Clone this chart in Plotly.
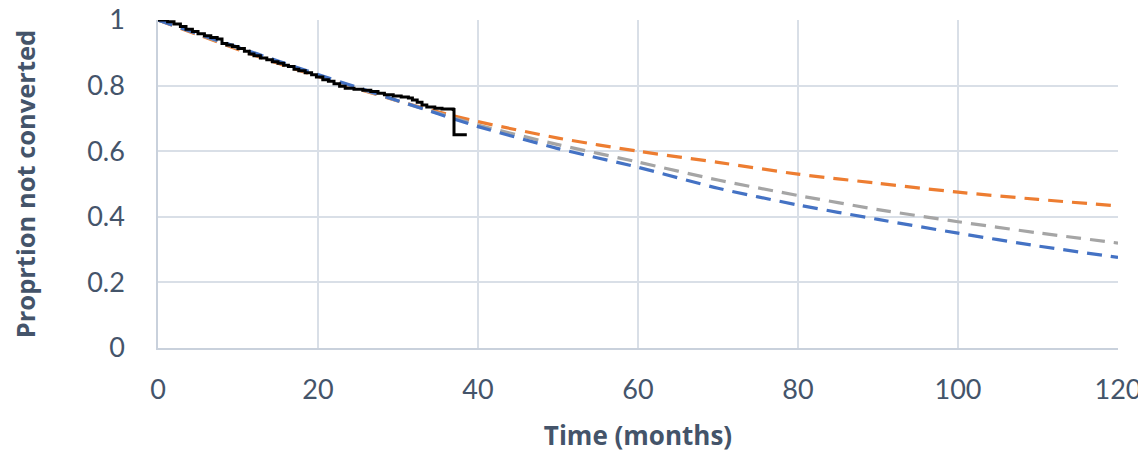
import plotly.graph_objects as go

# Kaplan-Meier observed (step curve)
km_time = [0, 1.2, 2.0, 2.8, 3.5, 4.3, 5.0, 5.8, 6.6, 7.4, 8.0, 8.6, 9.3, 10.0, 10.8, 11.4,
           12.0, 12.8, 13.6, 14.3, 15.0, 15.7, 16.3, 17.0, 17.6, 18.4, 19.2, 19.8, 20.6,
           21.3, 22.0, 22.7, 23.4, 24.5, 25.6, 26.6, 27.5, 28.3, 29.4, 30.4, 31.3, 31.8,
           32.4, 33.0, 33.6, 34.6, 35.5, 36.9, 37.0, 38.6]
km_surv = [1.0, 0.995, 0.988, 0.980, 0.972, 0.965, 0.958, 0.952, 0.947, 0.942, 0.928, 0.924,
           0.919, 0.913, 0.905, 0.896, 0.891, 0.884, 0.879, 0.873, 0.868, 0.862, 0.858, 0.850,
           0.845, 0.839, 0.833, 0.826, 0.818, 0.813, 0.806, 0.798, 0.792, 0.789, 0.786, 0.782,
           0.777, 0.772, 0.768, 0.765, 0.762, 0.756, 0.749, 0.741, 0.735, 0.731, 0.729, 0.727,
           0.650, 0.650]

# Extrapolated parametric curves
fit_time = [0, 5, 10, 15, 20, 25, 30, 35, 40, 50, 60, 70, 80, 90, 100, 110, 120]
orange_surv = [1, 0.955, 0.910, 0.868, 0.828, 0.790, 0.753, 0.720, 0.690, 0.640, 0.600,
               0.566, 0.530, 0.502, 0.475, 0.453, 0.433]
gray_surv = [1, 0.957, 0.913, 0.871, 0.830, 0.792, 0.753, 0.716, 0.680, 0.620, 0.567,
             0.512, 0.465, 0.422, 0.385, 0.351, 0.320]
blue_surv = [1, 0.958, 0.917, 0.875, 0.834, 0.794, 0.754, 0.714, 0.675, 0.608, 0.551,
             0.487, 0.436, 0.392, 0.350, 0.311, 0.276]

x_ticks = [0, 20, 40, 60, 80, 100, 120]
y_ticks = [0, 0.2, 0.4, 0.6, 0.8, 1]
y_labels = ["0", "0.2", "0.4", "0.6", "0.8", "1"]

text_color = "#44546A"
grid_color = "#D9DFE7"
font_family = "Lato"
title_family = "Open Sans"

fig = go.Figure()
for vals, col in [(orange_surv, "#ED7D31"), (gray_surv, "#A5A5A5"), (blue_surv, "#4472C4")]:
    fig.add_trace(go.Scatter(x=fit_time, y=vals, mode="lines",
                             line=dict(color=col, width=3.2, dash="15px,9px", shape="spline",
                                       smoothing=0.6),
                             showlegend=False, hoverinfo="skip"))
fig.add_trace(go.Scatter(x=km_time, y=km_surv, mode="lines",
                         line=dict(color="black", width=3, shape="hv"),
                         showlegend=False))

# the page body adds an 8px offset, so the figure is sized to fit the window
fig.update_layout(
    width=1138, height=445,
    margin=dict(l=150, r=28, t=12, b=105),
    paper_bgcolor="white", plot_bgcolor="white",
    font=dict(family=font_family, color=text_color, size=27),
)
fig.update_xaxes(range=[0, 120], tickvals=x_ticks, showgrid=True, gridcolor=grid_color,
                 gridwidth=1.5, zeroline=False, showline=True, linecolor="#C9D1DC", linewidth=1.5,
                 ticks="", ticklabelstandoff=17, tickfont=dict(size=27, color=text_color),
                 automargin=False, ticklabeloverflow="allow",
                 title=dict(text="<b>Time (months)</b>",
                            font=dict(size=26, color=text_color, family=title_family),
                            standoff=24))
fig.update_yaxes(range=[0, 1], tickvals=y_ticks, ticktext=y_labels, showgrid=True,
                 gridcolor=grid_color, gridwidth=1.5, zeroline=False, showline=True,
                 linecolor="#C9D1DC", linewidth=1.5, ticks="", ticklabelstandoff=26,
                 tickfont=dict(size=27, color=text_color), automargin=False,
                 ticklabeloverflow="allow",
                 title=dict(text="<b>Proprtion not converted</b>",
                            font=dict(size=25.5, color=text_color, family=title_family),
                            standoff=54))

fig.write_html("out.html")
